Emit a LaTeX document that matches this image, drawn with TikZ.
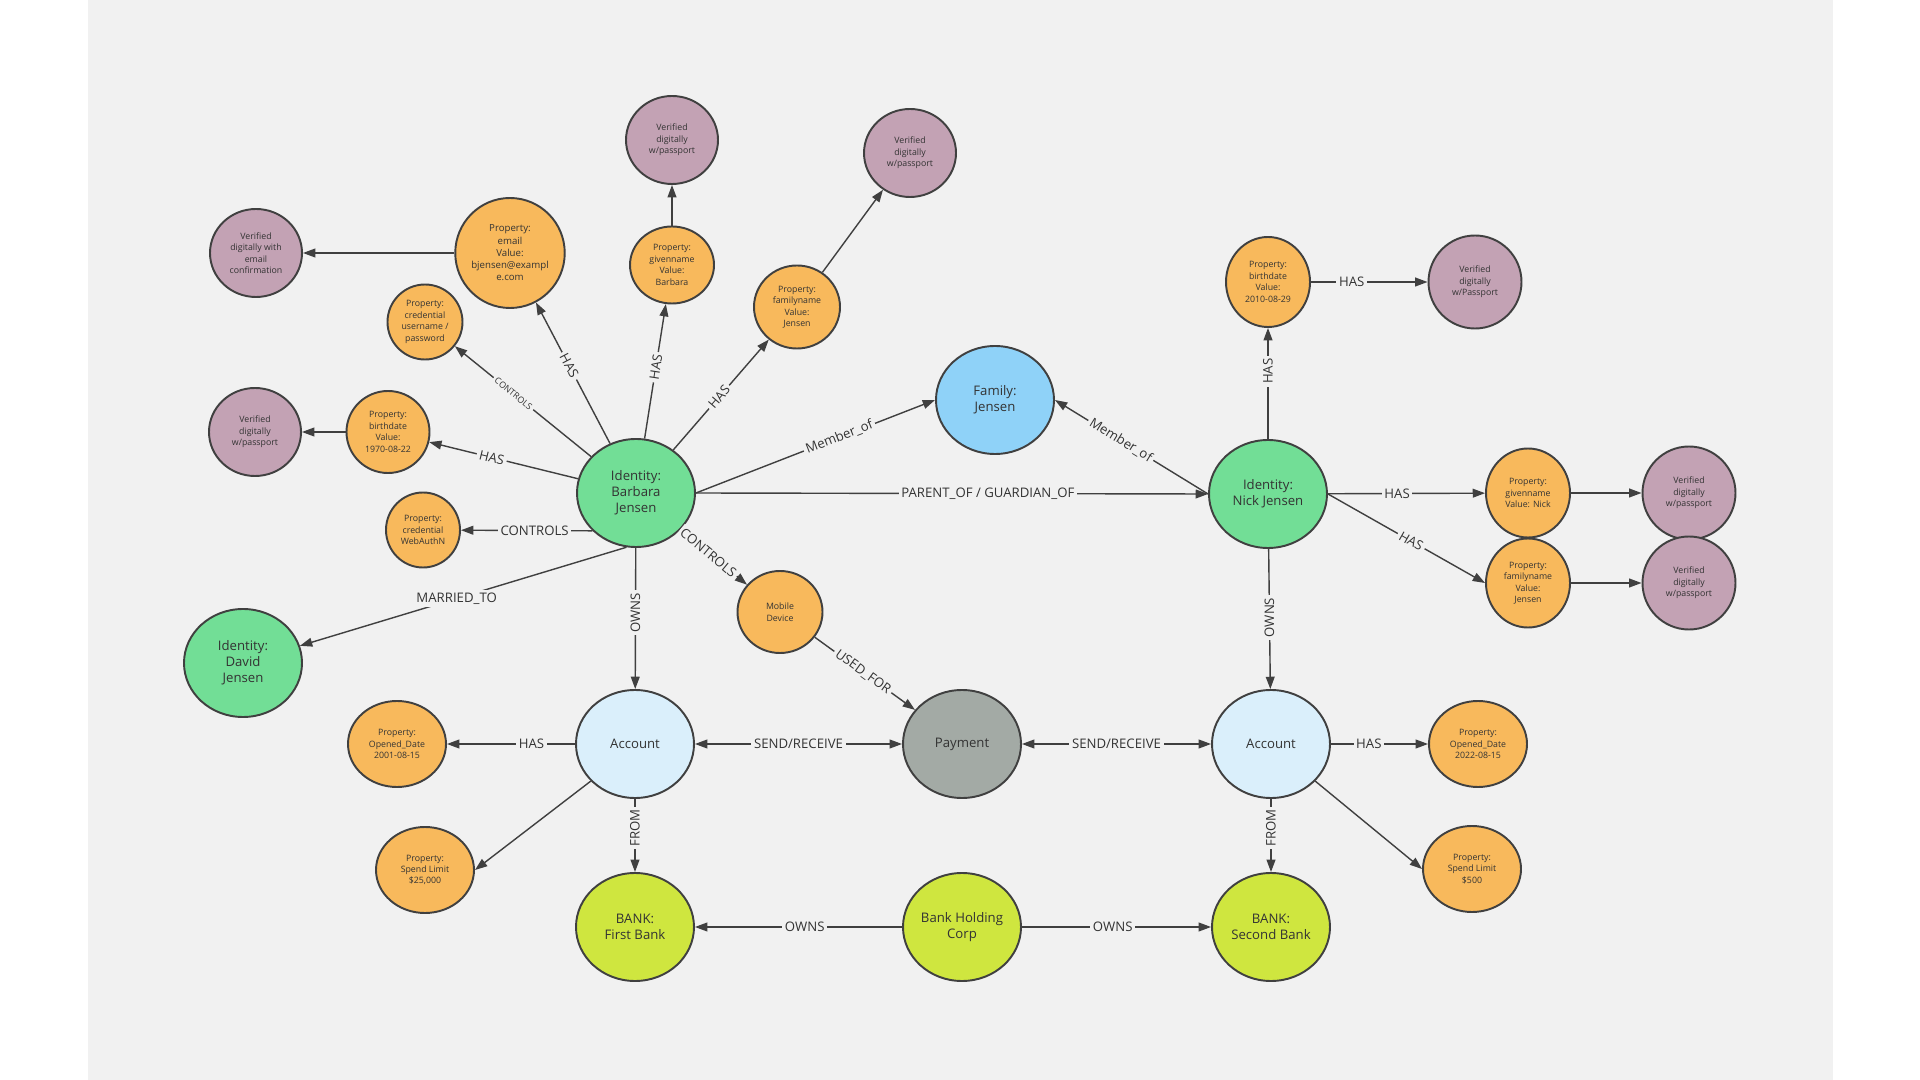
\documentclass[tikz,border=0pt]{standalone}
\usepackage{fontspec}
\setmainfont{Open Sans}
\usetikzlibrary{shapes.geometric,arrows.meta}
\definecolor{bg}{HTML}{F1F1F1}
\definecolor{edgegray}{HTML}{404040}
\definecolor{identgreen}{HTML}{72DE96}
\definecolor{familyblue}{HTML}{8FD2F8}
\definecolor{acctblue}{HTML}{DAEFFB}
\definecolor{paygray}{HTML}{A3AAA5}
\definecolor{bankgreen}{HTML}{CFE63F}
\definecolor{proporange}{HTML}{F8B95C}
\definecolor{verifmauve}{HTML}{C3A2B4}
\begin{document}
\begin{tikzpicture}[x=0.2mm, y=-0.2mm, line join=round, >={Triangle[length=7pt,width=5pt]},
	every node/.style={text=black!80},
	base/.style={ellipse, draw=edgegray, line width=1.1pt, inner sep=0pt, align=center},
	big/.style={base, minimum width=23.6mm, minimum height=21.6mm, font=\fontsize{7.5}{9}\selectfont},
	ident/.style={big, fill=identgreen},
	prop/.style={base, fill=proporange, minimum width=16.8mm, minimum height=16mm, font=\fontsize{5}{6.5}\selectfont},
	verif/.style={base, fill=verifmauve, minimum width=18.4mm, minimum height=17.6mm, font=\fontsize{5}{6.5}\selectfont},
	lbl/.style={fill=bg, inner sep=1.5pt, font=\fontsize{7.5}{9}\selectfont},
	slbl/.style={lbl, font=\fontsize{5}{6}\selectfont},
	link/.style={->, draw=edgegray, line width=0.8pt}]
	\fill[white] (0,0) rectangle (1920,1080);
	\fill[bg] (88,0) rectangle (1833,1080);
	\useasboundingbox (0,0) rectangle (1920,1080);
	
	\node[ident] (barbara) at (636,493) {Identity:\\Barbara\\Jensen};
	\node[ident] (nick) at (1268,494) {Identity:\\Nick Jensen};
	\node[ident] (david) at (243,663) {Identity:\\David\\Jensen};
	\node[big, fill=familyblue] (family) at (995,400) {Family:\\Jensen};
	\node[big, fill=acctblue] (acctA) at (635,744) {Account};
	\node[big, fill=paygray] (payment) at (962,744) {Payment};
	\node[big, fill=acctblue] (acctN) at (1271,744) {Account};
	\node[big, fill=bankgreen] (bankA) at (635,927) {BANK:\\First Bank};
	\node[big, fill=bankgreen] (holding) at (962,927) {Bank Holding\\Corp};
	\node[big, fill=bankgreen] (bankN) at (1271,927) {BANK:\\Second Bank};
	
	\node[prop, minimum width=21.6mm, minimum height=22mm, font=\fontsize{5.5}{7}\selectfont] (email) at (510,253) {Property:\\email\\Value:\\bjensen@exampl\\e.com};
	\node[verif] (vEmail) at (256,253) {Verified\\digitally with\\email\\confirmation};
	\node[prop, minimum width=15mm, minimum height=15mm] (cred) at (425,322) {Property:\\credential\\username /\\password};
	\node[prop, minimum height=15.4mm] (given) at (672,265) {Property:\\givenname\\Value:\\Barbara};
	\node[verif] (vGiven) at (672,140) {Verified\\digitally\\w/passport};
	\node[prop, minimum width=17.2mm, minimum height=16.6mm] (famB) at (797,307) {Property:\\familyname\\Value:\\Jensen};
	\node[verif] (vFam) at (910,153) {Verified\\digitally\\w/passport};
	\node[prop, minimum width=16.6mm, minimum height=16.4mm] (birthB) at (388,432) {Property:\\birthdate\\Value:\\1970-08-22};
	\node[verif] (vBirth) at (255,432) {Verified\\digitally\\w/passport};
	\node[prop, minimum width=14.8mm, minimum height=15mm] (webauthn) at (423,530) {Property:\\credential\\WebAuthN};
	\node[prop, minimum width=17mm, minimum height=16.4mm] (mobile) at (780,612) {Mobile\\Device};
	
	\node[prop, minimum width=16.8mm, minimum height=18mm] (birthN) at (1268,282) {Property:\\birthdate\\Value:\\2010-08-29};
	\node[verif, minimum width=18.6mm, minimum height=18.6mm] (vBirthN) at (1475,282) {Verified\\digitally\\w/Passport};
	\node[prop, minimum width=16.8mm, minimum height=17.8mm] (givenN) at (1528,493) {Property:\\givenname\\Value: Nick};
	\node[verif, minimum width=18.6mm, minimum height=18.6mm] (vGivenN) at (1689,493) {Verified\\digitally\\w/passport};
	\node[prop, minimum width=16.8mm, minimum height=17.8mm] (famN) at (1528,583) {Property:\\familyname\\Value:\\Jensen};
	\node[verif, minimum width=18.6mm, minimum height=18.6mm] (vFamN) at (1689,583) {Verified\\digitally\\w/passport};
	
	\node[prop, minimum width=19.6mm, minimum height=17.2mm] (openA) at (397,744) {Property:\\Opened\_Date\\2001-08-15};
	\node[prop, minimum width=19.6mm, minimum height=17.2mm] (limitA) at (425,870) {Property:\\Spend Limit\\\$25,000};
	\node[prop, minimum width=19.6mm, minimum height=17.2mm] (openN) at (1478,744) {Property:\\Opened\_Date\\2022-08-15};
	\node[prop, minimum width=19.6mm, minimum height=17.2mm] (limitN) at (1472,869) {Property:\\Spend Limit\\\$500};
	
	\draw[link] (barbara) -- node[lbl, sloped, pos=0.55]{HAS} (email);
	\draw[link] (barbara) -- node[lbl, sloped, pos=0.53]{HAS} (given);
	\draw[link] (barbara) -- node[lbl, sloped, pos=0.48]{HAS} (famB);
	\draw[link] (barbara) -- node[slbl, sloped, pos=0.57]{CONTROLS} (cred);
	\draw[link] (barbara) -- node[lbl, sloped, pos=0.58]{HAS} (birthB);
	\draw[link] (barbara.221) -- node[lbl, pos=0.44]{CONTROLS} (webauthn);
	\draw[link] (barbara.260) -- node[lbl, pos=0.52]{MARRIED\_TO} (david);
	\draw[link] (barbara) -- node[lbl, rotate=90, pos=0.46]{OWNS} (acctA);
	\draw[link] (barbara) -- node[lbl, sloped, pos=0.42]{CONTROLS} (mobile);
	\draw[link] (barbara.east) -- node[lbl, sloped, pos=0.6]{Member\_of} (family.west);
	\draw[link] (barbara.east) -- node[lbl, pos=0.57]{PARENT\_OF / GUARDIAN\_OF} (nick.west);
	\draw[link] (nick.west) -- node[lbl, sloped, pos=0.57]{Member\_of} (family.east);
	
	\draw[link] (nick) -- node[lbl, rotate=90, pos=0.61]{HAS} (birthN);
	\draw[link] (nick) -- node[lbl, pos=0.44]{HAS} (givenN);
	\draw[link] (nick.east) -- node[lbl, sloped, pos=0.53]{HAS} (famN.west);
	\draw[link] (nick) -- node[lbl, rotate=90, pos=0.49]{OWNS} (acctN);
	\draw[link] (birthN) -- node[lbl, pos=0.35]{HAS} (vBirthN);
	\draw[link] (givenN) -- (vGivenN);
	\draw[link] (famN) -- (vFamN);
	
	\draw[link] (email) -- (vEmail);
	\draw[link] (given) -- (vGiven);
	\draw[link] (famB) -- (vFam);
	\draw[link] (birthB) -- (vBirth);
	\draw[link] (mobile) -- node[lbl, sloped, pos=0.48]{USED\_FOR} (payment);
	
	\draw[link, <->] (acctA) -- node[lbl]{SEND/RECEIVE} (payment);
	\draw[link, <->] (payment) -- node[lbl]{SEND/RECEIVE} (acctN);
	\draw[link] (acctA) -- node[lbl, pos=0.34]{HAS} (openA);
	\draw[link] (acctA.220) -- (limitA.east);
	\draw[link] (acctA) -- node[lbl, rotate=90, pos=0.4]{FROM} (bankA);
	\draw[link] (acctN) -- node[lbl, pos=0.39]{HAS} (openN);
	\draw[link] (acctN.320) -- (limitN.west);
	\draw[link] (acctN) -- node[lbl, rotate=90, pos=0.4]{FROM} (bankN);
	\draw[link] (holding) -- node[lbl, pos=0.47]{OWNS} (bankA);
	\draw[link] (holding) -- node[lbl, pos=0.48]{OWNS} (bankN);
\end{tikzpicture}
\end{document}
